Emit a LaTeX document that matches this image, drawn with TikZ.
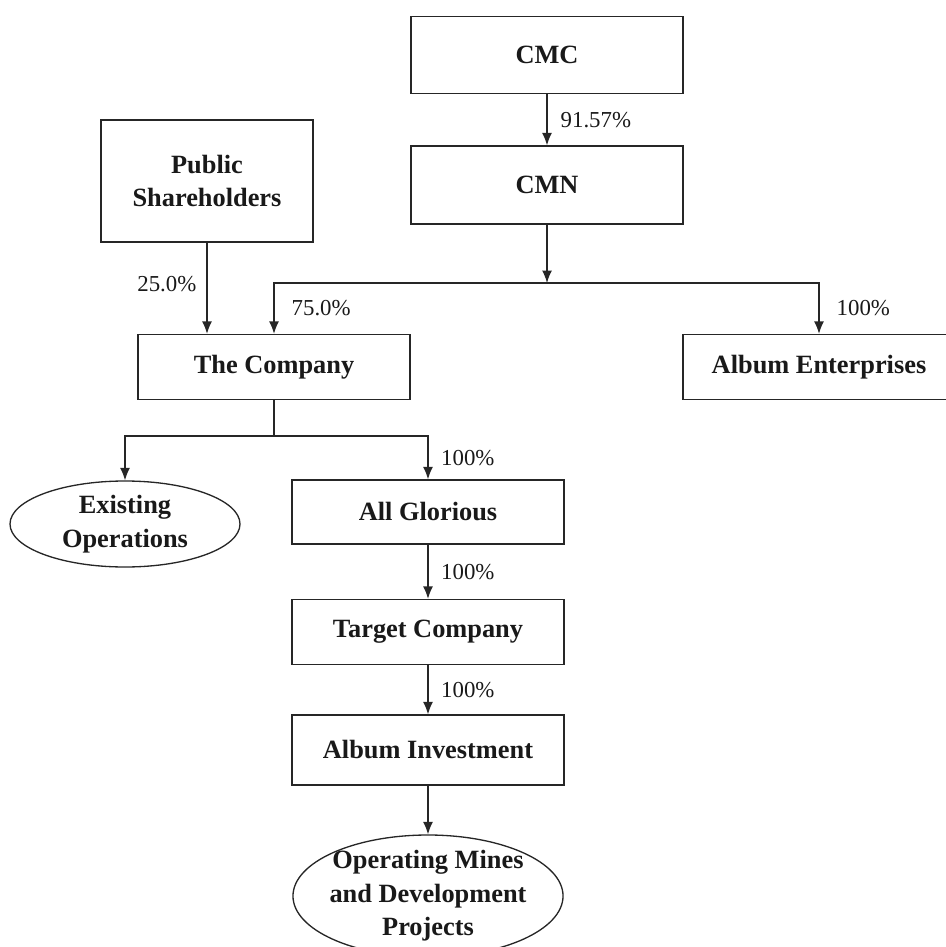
\documentclass[tikz,border=0pt]{standalone}
\usepackage{fontspec}
\setmainfont{Liberation Serif}
\usetikzlibrary{shapes.geometric, arrows.meta, positioning}
\tikzstyle{entityBox} = [shape=rectangle, draw=black!85, text=black!90, line width=0.75pt,
	align=center, fill=white, inner sep=0pt, font=\fontsize{15}{19}\selectfont\bfseries]
\tikzstyle{entityOval} = [shape=ellipse, draw=black!85, text=black!90, line width=0.75pt,
	align=center, fill=white, inner sep=0pt, font=\fontsize{15}{19}\selectfont\bfseries]
\tikzstyle{EntityBox} = [entityBox, minimum width=5.44cm, minimum height=1.3cm]
\tikzstyle{holdArrow} = [line width=0.75pt, -{Latex[length=2.5mm,width=2mm]}, draw=black!85]
\tikzstyle{holdLine} = [line width=0.75pt, draw=black!85]
\tikzstyle{pctLabel} = [text=black!90, inner sep=0pt, font=\fontsize{13}{16}\selectfont]

\begin{document}
\begin{tikzpicture}[node distance=2.4cm]
  \useasboundingbox (0,0) rectangle (18.9,-18.94);
  \node (CMC) [EntityBox, minimum height=1.54cm] at (10.94,-1.10) {CMC};
  \node (CMN) [EntityBox, minimum height=1.56cm, below of=CMC, node distance=2.6cm] {CMN};
  \node (PUB) [EntityBox, minimum width=4.24cm, minimum height=2.44cm] at (4.14,-3.62) {Public\\Shareholders};
  \node (COMP) [EntityBox] at (5.48,-7.34) {The Company};
  \node (AENT) [EntityBox, right of=COMP, node distance=10.9cm] {Album Enterprises};
  \node (EXOP) [entityOval, minimum width=4.6cm, minimum height=1.72cm] at (2.5,-10.48) {Existing\\Operations};
  \node (AGLO) [EntityBox, minimum height=1.28cm] at (8.56,-10.24) {All Glorious};
  \node (TARG) [EntityBox, below of=AGLO] {Target Company};
  \node (AINV) [EntityBox, minimum height=1.4cm, below of=TARG, node distance=2.36cm] {Album Investment};
  \node (MINE) [entityOval, inner xsep=-0.06cm, inner ysep=-0.05cm, minimum width=5.4cm, minimum height=2.44cm,
    below of=AINV, node distance=2.92cm] {Operating Mines\\and Development\\Projects};
  \coordinate [below of=CMN, node distance=1.96cm] (SPLIT);
  \coordinate [below of=COMP, node distance=1.38cm] (FORK);

  \draw [holdArrow] (CMC) -- node[pctLabel, right=0.26cm] {91.57\%} (CMN);
  \draw [holdArrow] (CMN) -- (SPLIT);
  \draw [holdArrow] (SPLIT) -| node[pctLabel, pos=0.75, right=0.34cm] {75.0\%} (COMP);
  \draw [holdArrow] (SPLIT) -| node[pctLabel, pos=0.75, right=0.34cm] {100\%} (AENT);
  \draw [holdArrow] (PUB.south) -- node[pctLabel, pos=0.45, left=0.2cm] {25.0\%} (PUB.south |- COMP.north);
  \draw [holdLine] (COMP) -- (FORK);
  \draw [holdArrow] (FORK) -| (EXOP);
  \draw [holdArrow] (FORK) -| node[pctLabel, pos=0.75, right=0.25cm] {100\%} (AGLO);
  \draw [holdArrow] (AGLO) -- node[pctLabel, right=0.25cm] {100\%} (TARG);
  \draw [holdArrow] (TARG) -- node[pctLabel, right=0.25cm] {100\%} (AINV);
  \draw [holdArrow] (AINV) -- (MINE);

\end{tikzpicture}
\end{document}
